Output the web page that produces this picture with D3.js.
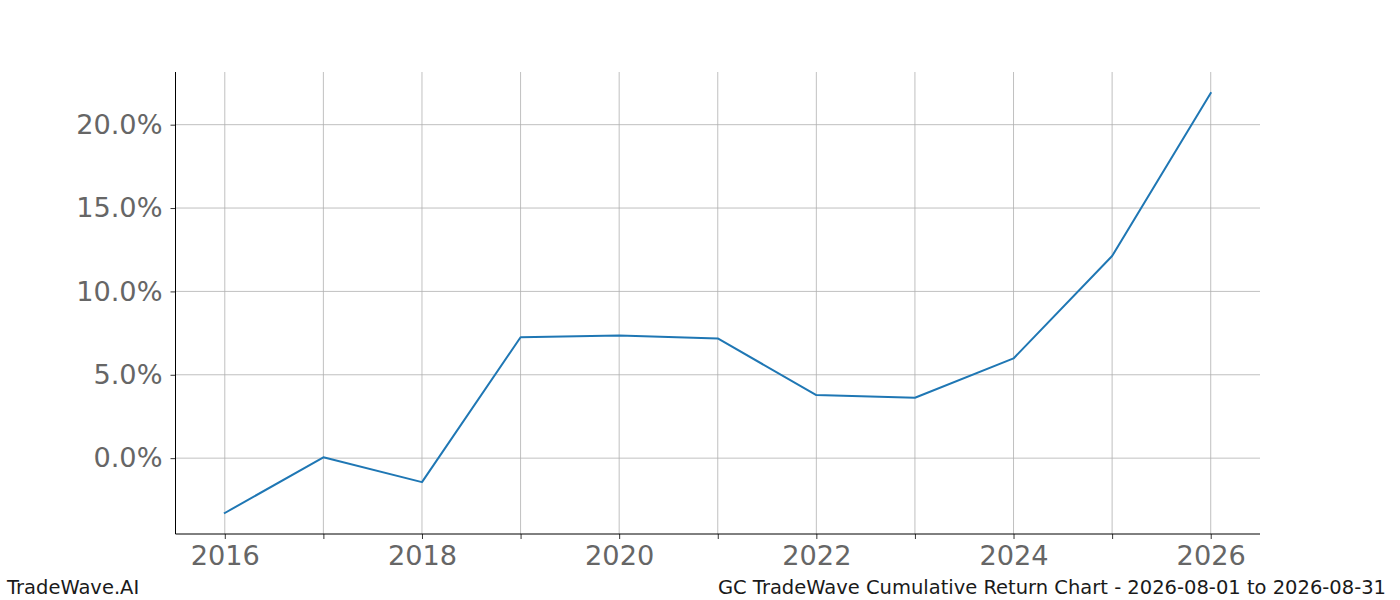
<!DOCTYPE html>
<html>
<head>
<meta charset="utf-8">
<script src="https://cdn.jsdelivr.net/npm/d3@7"></script>
<style>
  html, body { margin: 0; padding: 0; background: #fff; }
  svg { display: block; font-family: "DejaVu Sans", sans-serif; }
</style>
</head>
<body>
<svg id="chart" width="1400" height="600"></svg>
<script>
const years = [2016, 2017, 2018, 2019, 2020, 2021, 2022, 2023, 2024, 2025, 2026];
const returns = [-3.29, 0.05, -1.44, 7.25, 7.35, 7.18, 3.78, 3.62, 5.98, 12.12, 21.9];
const yTicks = [0, 5, 10, 15, 20];
const xTicks = [2016, 2017, 2018, 2019, 2020, 2021, 2022, 2023, 2024, 2025, 2026];
const xLabelYears = [2016, 2018, 2020, 2022, 2024, 2026];
const footerLeft = "TradeWave.AI";
const footerRight = "GC TradeWave Cumulative Return Chart - 2026-08-01 to 2026-08-31";

(function () {
const svg = d3.select("#chart");
const pLeft = 175.5, pRight = 1260, pTop = 72, pBottom = 534;

const x = d3.scaleLinear().domain([2015.5, 2026.5]).range([pLeft, pRight]);
const yMin = d3.min(returns), yMax = d3.max(returns), pad = (yMax - yMin) * 0.05;
const y = d3.scaleLinear().domain([yMin - pad, yMax + pad]).range([pBottom, pTop]);

// grid
const grid = svg.append("g");
grid.selectAll("line.vx").data(xTicks).join("line")
  .attr("x1", d => x(d)).attr("x2", d => x(d))
  .attr("y1", pTop).attr("y2", pBottom)
  .attr("stroke", "#b0b0b0").attr("stroke-width", 0.8);
grid.selectAll("line.hy").data(yTicks).join("line")
  .attr("x1", pLeft).attr("x2", pRight)
  .attr("y1", d => y(d)).attr("y2", d => y(d))
  .attr("stroke", "#b0b0b0").attr("stroke-width", 0.8);

// line
svg.append("path")
  .datum(years.map((yr, i) => [yr, returns[i]]))
  .attr("fill", "none")
  .attr("stroke", "#1f77b4")
  .attr("stroke-width", 2)
  .attr("stroke-linejoin", "round")
  .attr("stroke-linecap", "square")
  .attr("d", d3.line().x(d => x(d[0])).y(d => y(d[1])));

// axes
const xAxis = d3.axisBottom(x).tickValues(xTicks)
  .tickFormat(d => xLabelYears.includes(d) ? String(d) : "")
  .tickSize(5).tickPadding(7);
const gx = svg.append("g").attr("transform", `translate(0,${pBottom})`).call(xAxis);
gx.select(".domain").attr("d", `M${pLeft},0H${pRight}`).attr("stroke", "#000").attr("stroke-width", 1);
gx.selectAll(".tick line").attr("stroke", "#000").attr("stroke-width", 0.8);
gx.selectAll(".tick text").attr("fill", "#666").style("font-size", "27.2px")
  .style("font-family", "'DejaVu Sans', sans-serif").attr("dy", "0.71em");

const yAxis = d3.axisLeft(y).tickValues(yTicks)
  .tickFormat(d => d.toFixed(1) + "%").tickSize(5).tickPadding(8);
const gy = svg.append("g").attr("transform", `translate(${pLeft},0)`).call(yAxis);
gy.select(".domain").attr("d", `M0,${pTop}V${pBottom}`).attr("stroke", "#000").attr("stroke-width", 1);
gy.selectAll(".tick line").attr("stroke", "#000").attr("stroke-width", 0.8);
gy.selectAll(".tick text").attr("fill", "#666").style("font-size", "27.2px")
  .style("font-family", "'DejaVu Sans', sans-serif");

// footer
svg.append("text").attr("x", 7).attr("y", 594).text(footerLeft)
  .attr("fill", "#1a1a1a").style("font-size", "19.5px");
svg.append("text").attr("x", 1386).attr("y", 594).attr("text-anchor", "end").text(footerRight)
  .attr("fill", "#1a1a1a").style("font-size", "19.5px");
})();
</script>
</body>
</html>
